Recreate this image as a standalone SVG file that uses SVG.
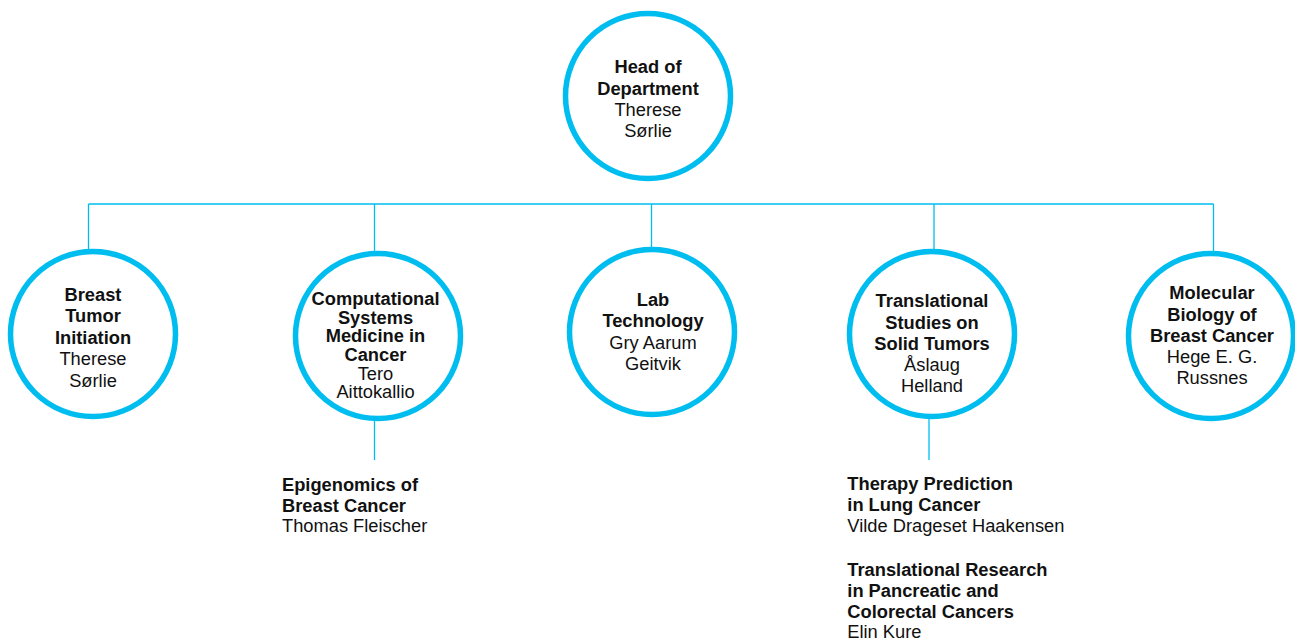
<svg xmlns="http://www.w3.org/2000/svg" width="1295" height="641" viewBox="0 0 1295 641">
<style>
.ring{fill:#fff;stroke:#00bdf0;stroke-width:5.5}
.conn{stroke:#00bdf0;stroke-width:1.3;fill:none}
text{font-family:"Liberation Sans",Arial,sans-serif;font-size:18.3px;fill:#111}
.c{text-anchor:middle}
.b{font-weight:bold}
</style>
<rect width="1295" height="641" fill="#fff"/>
<g id="connectors">
<path class="conn" d="M88.5 204H1213.5M88.5 204V252M374.5 204V254M651.5 204V250M934 204V252M1213.5 204V254M374.5 418V460M929 416V460"/>
</g>
<g id="head">
<circle class="ring" cx="648" cy="96" r="82.5"/>
<text class="c" x="648"><tspan class="b" x="648" y="73.3">Head of</tspan><tspan class="b" x="648" y="94.5">Department</tspan><tspan x="648" y="116">Therese</tspan><tspan x="648" y="137.3">Sørlie</tspan></text>
</g>
<g id="breast-tumor">
<circle class="ring" cx="93" cy="334" r="82.5"/>
<text class="c"><tspan class="b" x="93" y="300.5">Breast</tspan><tspan class="b" x="93" y="322">Tumor</tspan><tspan class="b" x="93" y="343.5">Initiation</tspan><tspan x="93" y="365">Therese</tspan><tspan x="93" y="386.5">Sørlie</tspan></text>
</g>
<g id="computational">
<circle class="ring" cx="378" cy="336" r="82.5"/>
<text class="c"><tspan class="b" x="375.5" y="305">Computational</tspan><tspan class="b" x="375.5" y="323.5">Systems</tspan><tspan class="b" x="375.5" y="342.3">Medicine in</tspan><tspan class="b" x="375.5" y="361">Cancer</tspan><tspan x="375.5" y="379.5">Tero</tspan><tspan x="375.5" y="398.3">Aittokallio</tspan></text>
</g>
<g id="lab">
<circle class="ring" cx="652" cy="332" r="82.5"/>
<text class="c"><tspan class="b" x="653" y="306">Lab</tspan><tspan class="b" x="653" y="327.3">Technology</tspan><tspan x="653" y="348.5">Gry Aarum</tspan><tspan x="653" y="370">Geitvik</tspan></text>
</g>
<g id="translational">
<circle class="ring" cx="932" cy="334" r="82.5"/>
<text class="c"><tspan class="b" x="932" y="307.3">Translational</tspan><tspan class="b" x="932" y="328.8">Studies on</tspan><tspan class="b" x="932" y="350">Solid Tumors</tspan><tspan x="932" y="370.8">Åslaug</tspan><tspan x="932" y="392.3">Helland</tspan></text>
</g>
<g id="molecular">
<circle class="ring" cx="1211" cy="336" r="82.5"/>
<text class="c"><tspan class="b" x="1212" y="299.3">Molecular</tspan><tspan class="b" x="1212" y="320.7">Biology of</tspan><tspan class="b" x="1212" y="341.7">Breast Cancer</tspan><tspan x="1212" y="362.7">Hege E. G.</tspan><tspan x="1212" y="384.3">Russnes</tspan></text>
</g>
<g id="epigenomics">
<text><tspan class="b" x="282" y="491">Epigenomics of</tspan><tspan class="b" x="282" y="511.7">Breast Cancer</tspan><tspan x="282" y="532.3">Thomas Fleischer</tspan></text>
</g>
<g id="therapy-prediction">
<text><tspan class="b" x="847.3" y="490">Therapy Prediction</tspan><tspan class="b" x="847.3" y="511">in Lung Cancer</tspan><tspan x="847.3" y="532.3">Vilde Drageset Haakensen</tspan></text>
</g>
<g id="translational-research">
<text><tspan class="b" x="847.3" y="575.7">Translational Research</tspan><tspan class="b" x="847.3" y="596.7">in Pancreatic and</tspan><tspan class="b" x="847.3" y="617.7">Colorectal Cancers</tspan><tspan x="847.3" y="637.7">Elin Kure</tspan></text>
</g>
</svg>
